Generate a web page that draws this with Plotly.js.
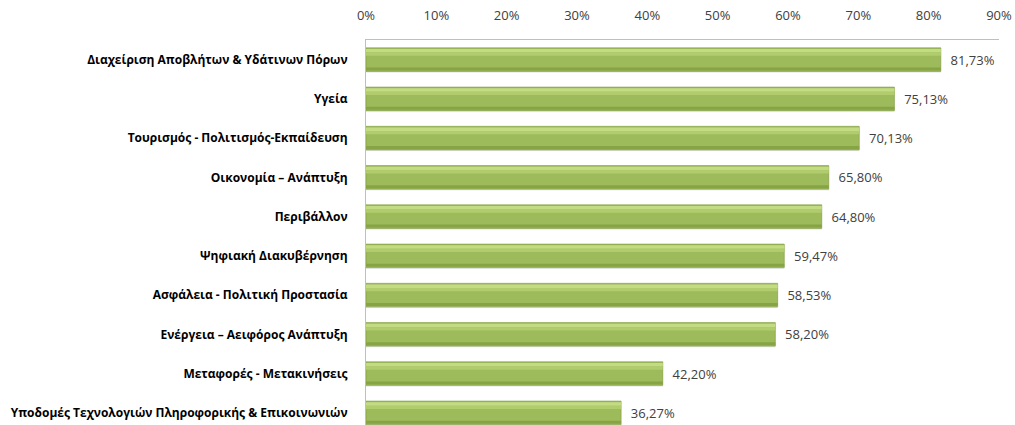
<!DOCTYPE html>
<html><head><meta charset="utf-8">
<script src="https://cdn.plot.ly/plotly-3.0.1.min.js"></script>
<style>html,body{margin:0;padding:0;background:#fff}#chart{width:1015px;height:425px}</style>
</head><body><div id="chart"></div>
<script>
const categories = [
  "Διαχείριση Αποβλήτων & Υδάτινων Πόρων",
  "Υγεία",
  "Τουρισμός - Πολιτισμός-Εκπαίδευση",
  "Οικονομία – Ανάπτυξη",
  "Περιβάλλον",
  "Ψηφιακή Διακυβέρνηση",
  "Ασφάλεια - Πολιτική Προστασία",
  "Ενέργεια – Αειφόρος Ανάπτυξη",
  "Μεταφορές - Μετακινήσεις",
  "Υποδομές Τεχνολογιών Πληροφορικής & Επικοινωνιών"
];
const values = [81.73, 75.13, 70.13, 65.80, 64.80, 59.47, 58.53, 58.20, 42.20, 36.27];
const tickStep = 10;
const tickMax = 90;

const base = {type:'bar', orientation:'h', x: values, y: categories, hoverinfo:'skip', showlegend:false};
const traces = [
  Object.assign({}, base, {marker:{color:'rgba(0,0,0,0.12)'}, width:0.6, offset:-0.27}),
  Object.assign({}, base, {marker:{color:'#9dbb5a', line:{color:'#7f9c42', width:0.6}}, width:0.6, offset:-0.3,
    texttemplate:'\u00a0\u00a0%{x:.2f}%', textposition:'outside', cliponaxis:false,
    textfont:{family:'Open Sans, sans-serif', size:13, color:'#404040'}}),
  Object.assign({}, base, {marker:{color:'#c3dc84'}, width:0.09, offset:-0.27}),
  Object.assign({}, base, {marker:{color:'#b0cc6c'}, width:0.08, offset:-0.18}),
  Object.assign({}, base, {marker:{color:'#86a443'}, width:0.08, offset:0.2})
];

const layout = {
  width:1015, height:425,
  margin:{l:366, r:16, t:40, b:0, pad:0},
  paper_bgcolor:'#fff', plot_bgcolor:'#fff',
  barmode:'overlay',
  separators:',.',
  font:{family:'Open Sans, sans-serif', color:'#404040'},
  xaxis:{side:'top', range:[0,tickMax], tickmode:'linear', tick0:0, dtick:tickStep, ticksuffix:'%', showticksuffix:'all',
    showgrid:false, zeroline:false,
    showline:true, linecolor:'#bfbfbf', linewidth:1, ticks:'', ticklabelstandoff:14,
    tickfont:{family:'Open Sans, sans-serif', size:13, color:'#404040'}, fixedrange:true},
  yaxis:{type:'category', autorange:false, range:[9.31, -0.5], showgrid:false, zeroline:false,
    showline:true, linecolor:'#bfbfbf', linewidth:1, ticks:'', ticklabelstandoff:15,
    tickfont:{family:'Open Sans, sans-serif', size:12, color:'#000', weight:'bold'}, fixedrange:true}
};
Plotly.newPlot('chart', traces, layout, {displayModeBar:false, staticPlot:true});
</script></body></html>
